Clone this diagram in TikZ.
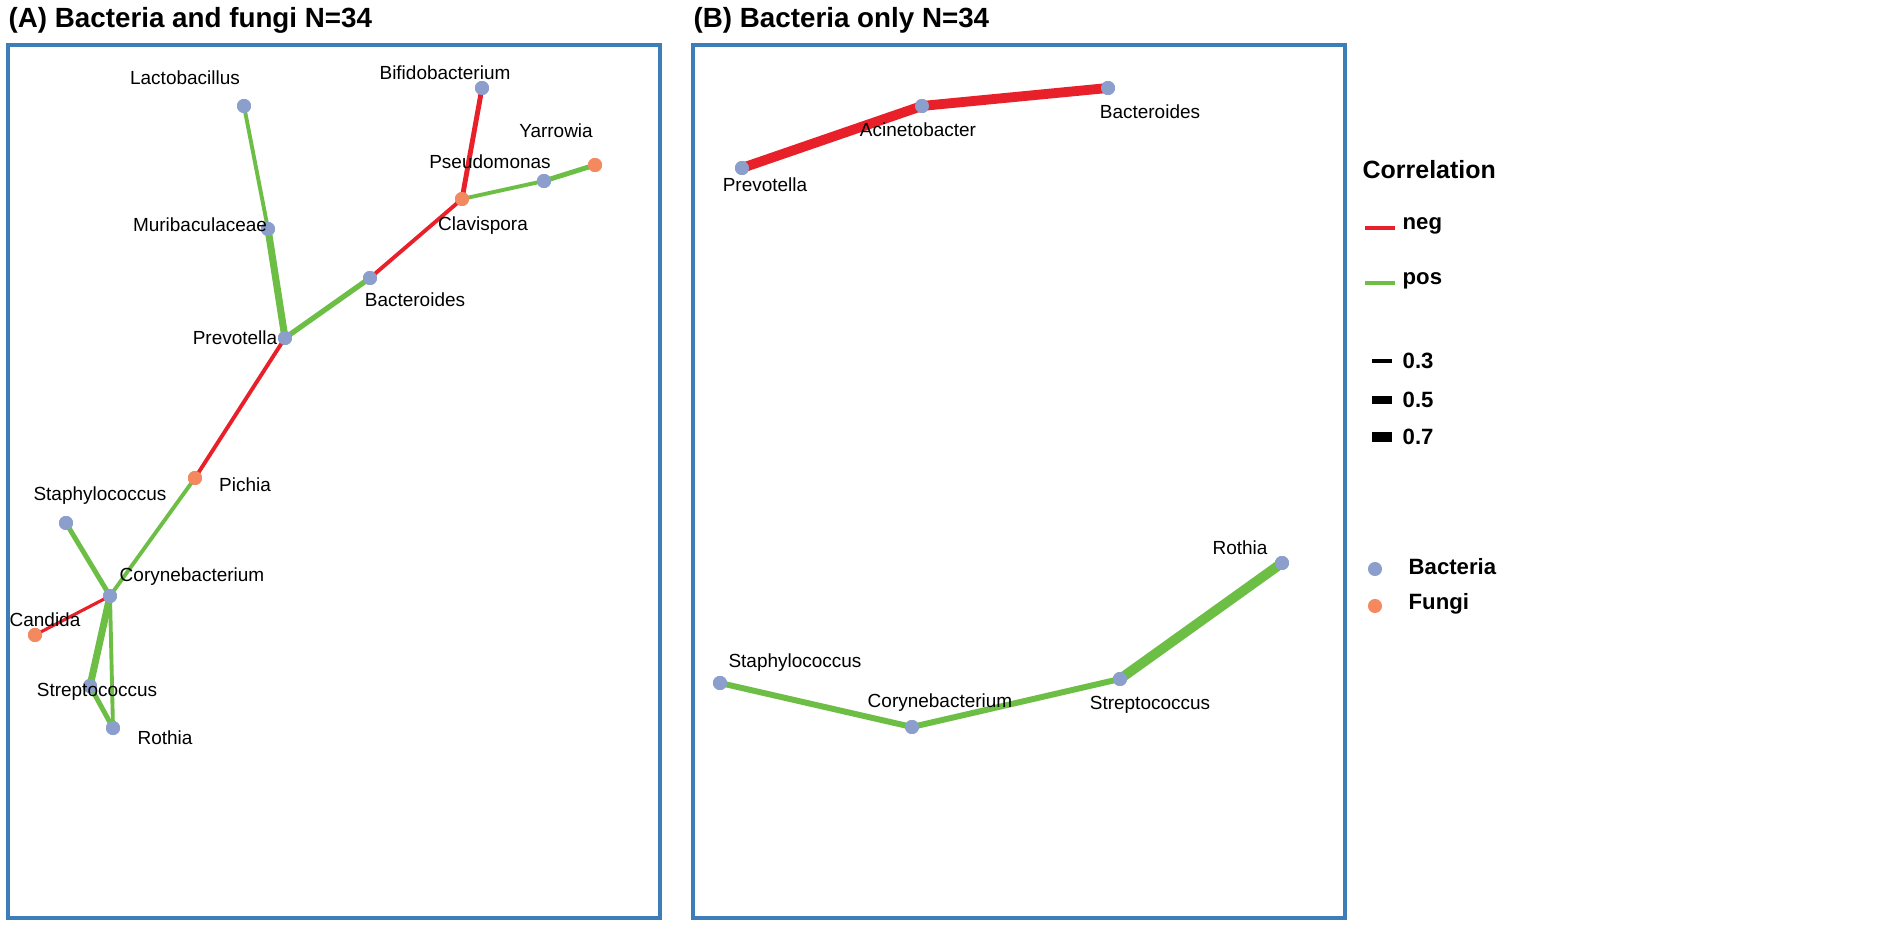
\documentclass[tikz,border=0pt]{standalone}
\usepackage{fontspec}
\setmainfont{Liberation Sans}
\definecolor{bactcol}{HTML}{8C9FCC}
\definecolor{fungcol}{HTML}{F4895F}
\definecolor{negcol}{HTML}{E8202A}
\definecolor{poscol}{HTML}{6CBE45}
\definecolor{framecol}{HTML}{3D7DB8}
\tikzset{%
  bact/.style    = {circle, fill=bactcol, inner sep=0pt, minimum size=4pt},%
  fung/.style    = {circle, fill=fungcol, inner sep=0pt, minimum size=4pt},%
  lbl/.style     = {font=\fontsize{5.4}{6}\selectfont, inner sep=0pt},%
  ttl/.style     = {font=\bfseries\fontsize{7.9}{9}\selectfont, anchor=west, inner sep=0pt},%
  leg/.style     = {font=\bfseries\fontsize{6.3}{7}\selectfont, anchor=west, inner sep=0pt},%
  negedge/.style = {draw=negcol},%
  posedge/.style = {draw=poscol},%
  panel/.style   = {draw=framecol, line width=1pt}%
}
\begin{document}
\begin{tikzpicture}[x=0.1mm, y=-0.1mm]
	\fill[white] (0,0) rectangle (1902,930);
	% titles and frames
	\node[ttl] (ta) at (8,20) {(A) Bacteria and fungi N=34};
	\node[ttl] (tb) at (693,20) {(B) Bacteria only N=34};
	\draw[panel] (8,45) rectangle (660,918);
	\draw[panel] (693,45) rectangle (1345,918);
	% panel A
	\node[bact] (alac) at (244,106) {};
	\node[bact] (abif) at (482,88) {};
	\node[fung] (ayar) at (595,165) {};
	\node[bact] (apse) at (544,181) {};
	\node[fung] (acla) at (462,199) {};
	\node[bact] (amur) at (268,229) {};
	\node[bact] (abac) at (370,278) {};
	\node[bact] (apre) at (285,338) {};
	\node[fung] (apic) at (195,478) {};
	\node[bact] (asta) at (66,523) {};
	\node[bact] (acor) at (110,596) {};
	\node[fung] (acan) at (35,635) {};
	\node[bact] (astr) at (90,686) {};
	\node[bact] (arot) at (113,728) {};
	\draw[posedge, line width=1.1pt] (alac.center) -- (amur.center);
	\draw[posedge, line width=2pt] (amur.center) -- (apre.center);
	\draw[posedge, line width=1.5pt] (apre.center) -- (abac.center);
	\draw[negedge, line width=1.1pt] (abac.center) -- (acla.center);
	\draw[negedge, line width=1.4pt] (acla.center) -- (abif.center);
	\draw[posedge, line width=1.1pt] (acla.center) -- (apse.center);
	\draw[posedge, line width=1.4pt] (apse.center) -- (ayar.center);
	\draw[negedge, line width=1.1pt] (apre.center) -- (apic.center);
	\draw[posedge, line width=1.1pt] (apic.center) -- (acor.center);
	\draw[posedge, line width=1.4pt] (asta.center) -- (acor.center);
	\draw[negedge, line width=0.9pt] (acor.center) -- (acan.center);
	\draw[posedge, line width=2pt] (acor.center) -- (astr.center);
	\draw[posedge, line width=1.1pt] (acor.center) -- (arot.center);
	\draw[posedge, line width=1.4pt] (astr.center) -- (arot.center);
	\foreach \n/\t in {alac/bact,abif/bact,ayar/fung,apse/bact,acla/fung,amur/bact,abac/bact,apre/bact,apic/fung,asta/bact,acor/bact,acan/fung,astr/bact,arot/bact}
		\node[\t] at (\n) {};
	\node[lbl] (llac) at (185,78) {Lactobacillus};
	\node[lbl] (lbif) at (445,73) {Bifidobacterium};
	\node[lbl] (lyar) at (556,131) {Yarrowia};
	\node[lbl] (lpse) at (490,162) {Pseudomonas};
	\node[lbl] (lcla) at (483,226) {Clavispora};
	\node[lbl] (lmur) at (200,225) {Muribaculaceae};
	\node[lbl] (lbac) at (415,300) {Bacteroides};
	\node[lbl] (lpre) at (235,338) {Prevotella};
	\node[lbl] (lpic) at (245,485) {Pichia};
	\node[lbl] (lsta) at (100,496) {Staphylococcus};
	\node[lbl] (lcor) at (192,577) {Corynebacterium};
	\node[lbl] (lcan) at (45,620) {Candida};
	\node[lbl] (lstr) at (97,692) {Streptococcus};
	\node[lbl] (lrot) at (165,738) {Rothia};
	% panel B
	\node[bact] (bpre) at (742,168) {};
	\node[bact] (baci) at (922,106) {};
	\node[bact] (bbac) at (1108,88) {};
	\node[bact] (bsta) at (720,683) {};
	\node[bact] (bcor) at (912,727) {};
	\node[bact] (bstr) at (1120,679) {};
	\node[bact] (brot) at (1282,563) {};
	\draw[negedge, line width=2.8pt] (bpre.center) -- (baci.center) -- (bbac.center);
	\draw[posedge, line width=1.7pt] (bsta.center) -- (bcor.center) -- (bstr.center);
	\draw[posedge, line width=2.8pt] (bstr.center) -- (brot.center);
	\foreach \n in {bpre,baci,bbac,bsta,bcor,bstr,brot}
		\node[bact] at (\n) {};
	\node[lbl] (lbpre) at (765,185) {Prevotella};
	\node[lbl] (lbaci) at (918,130) {Acinetobacter};
	\node[lbl] (lbbac) at (1150,112) {Bacteroides};
	\node[lbl] (lbsta) at (795,663) {Staphylococcus};
	\node[lbl] (lbcor) at (940,703) {Corynebacterium};
	\node[lbl] (lbstr) at (1150,705) {Streptococcus};
	\node[lbl] (lbrot) at (1240,548) {Rothia};
	% legend
	\node[ttl, font=\bfseries\fontsize{7.1}{8}\selectfont] (lgt) at (1362,170) {Correlation};
	\coordinate (ln1) at (1365,228); \coordinate (ln2) at (1395,228);
	\draw[negedge, line width=1.1pt] (ln1) -- (ln2);
	\node[leg] (lneg) at (1402,226) {neg};
	\coordinate (lp1) at (1365,283); \coordinate (lp2) at (1395,283);
	\draw[posedge, line width=1.1pt] (lp1) -- (lp2);
	\node[leg] (lpos) at (1402,281) {pos};
	\foreach \y/\w/\v in {361/1.3/0.3, 400/2.1/0.5, 437/2.8/0.7}{
		\draw[line width=\w pt] (1372,\y) -- (1392,\y);
		\node[leg] at (1402,\y) {\v};
	}
	\node[bact] (kb) at (1375,569) {};
	\node[leg] (lkb) at (1408,567) {Bacteria};
	\node[fung] (kf) at (1375,606) {};
	\node[leg] (lkf) at (1408,604) {Fungi};
	\pgfresetboundingbox
	\useasboundingbox (0,0) rectangle (1902,930);
\end{tikzpicture}
\end{document}
